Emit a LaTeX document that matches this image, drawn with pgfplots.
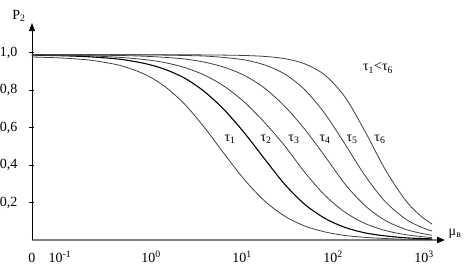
\documentclass[border=0pt]{standalone}
\usepackage{fontspec}
\setmainfont{Liberation Serif}
\usepackage{pgfplots}
\usepackage{pgfplotstable}
\pgfplotsset{compat=1.18}
\usetikzlibrary{arrows.meta}
\pgfplotstableread{
x      t1     t2     t3     t4     t5     t6
-1.308 0.976  0.986  0.987  0.988  0.988  0.988
-1.000 0.971  0.983  0.985  0.987  0.988  0.988
-0.670 0.959  0.977  0.982  0.986  0.988  0.988
-0.341 0.931  0.964  0.974  0.984  0.988  0.988
-0.066 0.883  0.941  0.962  0.980  0.987  0.988
0.154  0.818  0.910  0.946  0.974  0.986  0.988
0.374  0.722  0.862  0.919  0.965  0.984  0.988
0.593  0.596  0.789  0.878  0.948  0.981  0.987
0.813  0.454  0.690  0.817  0.920  0.973  0.986
1.033  0.318  0.567  0.732  0.876  0.960  0.984
1.253  0.206  0.429  0.624  0.808  0.933  0.979
1.473  0.126  0.295  0.500  0.711  0.884  0.967
1.692  0.074  0.189  0.359  0.589  0.800  0.939
1.912  0.043  0.115  0.238  0.446  0.673  0.879
2.132  0.024  0.067  0.148  0.298  0.511  0.762
2.352  0.014  0.038  0.088  0.183  0.343  0.579
2.571  0.008  0.022  0.051  0.105  0.206  0.378
2.791  0.004  0.012  0.029  0.058  0.114  0.215
2.956  0.003  0.008  0.019  0.037  0.071  0.131
3.088  0.002  0.006  0.013  0.025  0.048  0.085
}\datatable
\begin{document}
\begin{tikzpicture}[font=\fontsize{14bp}{16bp}\selectfont]
\begin{axis}[
  at={(0,0)}, anchor=south west,
  x=91bp, y=187.5bp,
  xmin=-1.308, xmax=3.231, ymin=0, ymax=1.157,
  axis x line=bottom, axis y line=left,
  x axis line style={draw=gray, line width=1.8bp, -{Triangle[color=black,length=8bp,width=6bp]}},
  y axis line style={draw=black, line width=0.7bp, -{Triangle[color=black,length=8bp,width=6bp]}},
  xtick={-1.308,-1,0,1,2,3},
  xticklabels={0,10\textsuperscript{-1},10\textsuperscript{0},10\textsuperscript{1},10\textsuperscript{2},10\textsuperscript{3}},
  xtick style={draw=none},
  ytick={0.2,0.4,0.6,0.8,1.0},
  yticklabels={{0,2},{0,4},{0,6},{0,8},{1,0}},
  ytick style={black, line width=0.6bp},
  tick align=center, major tick length=5bp,
  ticklabel style={font=\fontsize{14bp}{16bp}\selectfont},
  yticklabel style={anchor=east, inner sep=0pt, xshift=-12bp},
  xticklabel style={anchor=base, inner sep=0pt, yshift=-20bp},
  clip=false,
  curve/.style={smooth, line width=0.8bp, black!75, mark=none},
]
\addplot[curve] table[x=x,y=t1] {\datatable};
\addplot[curve, black, line width=1.1bp] table[x=x,y=t2] {\datatable};
\addplot[curve] table[x=x,y=t3] {\datatable};
\addplot[curve] table[x=x,y=t4] {\datatable};
\addplot[curve] table[x=x,y=t5] {\datatable};
\addplot[curve] table[x=x,y=t6] {\datatable};
\node at (axis cs:0.868,0.539) {τ\textsubscript{1}};
\node at (axis cs:1.264,0.539) {τ\textsubscript{2}};
\node at (axis cs:1.571,0.539) {τ\textsubscript{3}};
\node at (axis cs:1.912,0.539) {τ\textsubscript{4}};
\node at (axis cs:2.209,0.539) {τ\textsubscript{5}};
\node at (axis cs:2.516,0.539) {τ\textsubscript{6}};
\node at (axis cs:2.495,0.917) {τ\textsubscript{1}<τ\textsubscript{6}};
\node at (axis cs:-1.451,1.195) {P\textsubscript{2}};
\node at (axis cs:3.341,0.032) {μ\textsubscript{в}};
\end{axis}
\pgfresetboundingbox
\path[use as bounding box] (-32bp,-27bp) rectangle (432bp,240bp);
\end{tikzpicture}
\end{document}
